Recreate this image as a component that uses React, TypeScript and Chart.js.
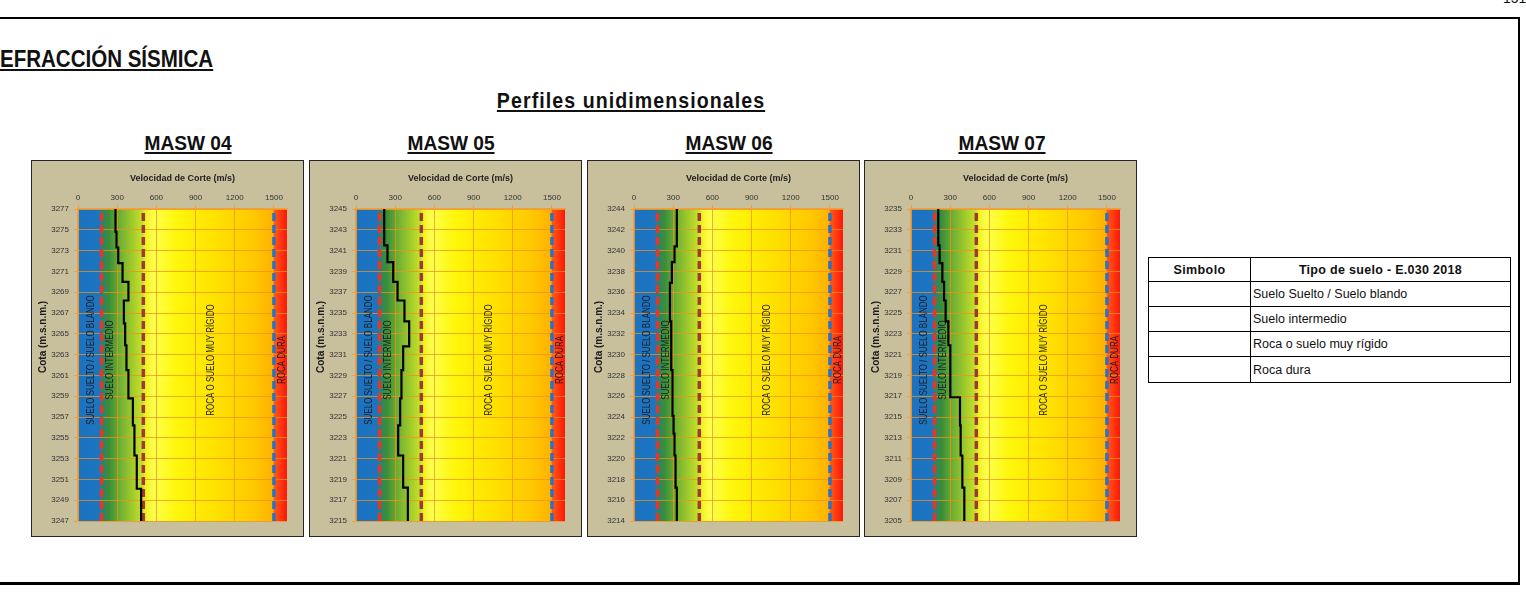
import React, { useEffect, useRef } from 'react';
import { Chart, registerables } from 'chart.js';

Chart.register(...registerables);

const FONT = "'Liberation Sans', Arial, Helvetica, sans-serif";
Chart.defaults.font.family = FONT;

// ---------- data ----------
const xTicks = [0, 300, 600, 900, 1200, 1500];
const xMin = 0;
const xMax = 1600;
const thresholds = [180, 500, 1500];
const zoneLabels = ['SUELO SUELTO / SUELO BLANDO', 'SUELO INTERMEDIO', 'ROCA O SUELO MUY RÍGIDO', 'ROCA DURA'];
const zoneLabelX = [100, 245, 1020, 1560];

const profileNames = ['MASW 04', 'MASW 05', 'MASW 06', 'MASW 07'];

const masw04Tops = [3277, 3274.8, 3273.3, 3271.8, 3270.0, 3268.2, 3266.0, 3263.9, 3261.5, 3258.8, 3256.2, 3253.3, 3250.1];
const masw04Vs = [287, 295, 308, 341, 386, 351, 361, 371, 386, 420, 432, 450, 483];
const masw04Base = 3247;
const masw04Ticks = [3277, 3275, 3273, 3271, 3269, 3267, 3265, 3263, 3261, 3259, 3257, 3255, 3253, 3251, 3249, 3247];

const masw05Tops = [3245, 3241.5, 3239.9, 3238.0, 3236.2, 3234.2, 3231.8, 3229.5, 3226.8, 3224.2, 3221.3, 3218.2];
const masw05Vs = [216, 241, 285, 318, 371, 407, 361, 348, 338, 323, 361, 397];
const masw05Base = 3215;
const masw05Ticks = [3245, 3243, 3241, 3239, 3237, 3235, 3233, 3231, 3229, 3227, 3225, 3223, 3221, 3219, 3217, 3215];

const masw06Tops = [3244, 3240.4, 3238.9, 3236.9, 3233.2, 3228.5, 3224.1, 3222.4, 3220.3, 3217.2];
const masw06Vs = [328, 310, 290, 275, 285, 295, 303, 310, 318, 328];
const masw06Base = 3214;
const masw06Ticks = [3244, 3242, 3240, 3238, 3236, 3234, 3232, 3230, 3228, 3226, 3224, 3222, 3220, 3218, 3216, 3214];

const masw07Tops = [3235, 3231.5, 3229.8, 3228.0, 3226.2, 3224.2, 3221.9, 3216.9, 3214.2, 3211.3, 3208.2];
const masw07Vs = [209, 219, 240, 253, 265, 286, 301, 375, 380, 393, 408];
const masw07Base = 3205;
const masw07Ticks = [3235, 3233, 3231, 3229, 3227, 3225, 3223, 3221, 3219, 3217, 3215, 3213, 3211, 3209, 3207, 3205];

const legendRows = ['Suelo Suelto / Suelo blando', 'Suelo intermedio', 'Roca o suelo muy rígido', 'Roca dura'];

// ---------- styles ----------
const thresholdColors = ['#E8352B', '#9E3A33', '#2C72C4'];
const zoneStopValues = [0, 160, 195, 235, 330, 450, 500, 515, 580, 750, 1050, 1350, 1490, 1502, 1600];
const zoneStopColors = ['#1B72C2', '#1D74BF', '#2D8660', '#3A8E38', '#74B232', '#B2D42A', '#CCE22A', '#F0F020', '#FFFF4E', '#FFF70C', '#FFE200', '#FFC800', '#FFB200', '#FF5A16', '#FF160A'];
const GRID = 'rgba(240,145,25,0.75)';

const panelLefts = [31, 309, 587, 864];
const headingCenters = [188, 451, 729, 1002];

type Profile = { tops: number[]; vs: number[]; base: number; ticks: number[] };
const profiles: Profile[] = [
  { tops: masw04Tops, vs: masw04Vs, base: masw04Base, ticks: masw04Ticks },
  { tops: masw05Tops, vs: masw05Vs, base: masw05Base, ticks: masw05Ticks },
  { tops: masw06Tops, vs: masw06Vs, base: masw06Base, ticks: masw06Ticks },
  { tops: masw07Tops, vs: masw07Vs, base: masw07Base, ticks: masw07Ticks },
];

function stepPoints(p: Profile) {
  const pts: { x: number; y: number }[] = [];
  for (let i = 0; i < p.vs.length; i++) {
    const top = p.tops[i];
    const bot = i + 1 < p.tops.length ? p.tops[i + 1] : p.base;
    pts.push({ x: p.vs[i], y: top }, { x: p.vs[i], y: bot });
  }
  return pts;
}

const zonePlugin = {
  id: 'zones',
  beforeDraw(chart: any) {
    const { ctx, chartArea: a, scales } = chart;
    const x = scales.x;
    const x0 = x.getPixelForValue(xMin);
    const x1 = x.getPixelForValue(xMax);
    const g = ctx.createLinearGradient(x0, 0, x1, 0);
    zoneStopValues.forEach((v, i) => g.addColorStop((v - xMin) / (xMax - xMin), zoneStopColors[i]));
    ctx.save();
    ctx.fillStyle = g;
    ctx.fillRect(a.left, a.top, a.right - a.left, a.bottom - a.top);
    ctx.restore();
  },
  beforeDatasetsDraw(chart: any) {
    const { ctx, chartArea: a, scales } = chart;
    const x = scales.x;
    const cy = (a.top + a.bottom) / 2 - 5;
    ctx.save();
    ctx.fillStyle = '#1c1c1c';
    ctx.font = `10px ${FONT}`;
    ctx.textAlign = 'center';
    ctx.textBaseline = 'middle';
    zoneLabels.forEach((t, i) => {
      const px = x.getPixelForValue(zoneLabelX[i]);
      ctx.save();
      ctx.translate(px, cy);
      ctx.rotate(-Math.PI / 2);
      ctx.scale(0.8, 1);
      ctx.fillText(t, 0, 0);
      ctx.restore();
    });
    ctx.restore();
  },
  afterDraw(chart: any) {
    const { ctx, chartArea: a } = chart;
    ctx.save();
    ctx.translate(11, a.top + (a.bottom - a.top) * 0.41);
    ctx.rotate(-Math.PI / 2);
    ctx.font = `bold 10px ${FONT}`;
    ctx.fillStyle = '#1a1a1a';
    ctx.textAlign = 'center';
    ctx.textBaseline = 'middle';
    ctx.fillText('Cota (m.s.n.m.)', 0, 0);
    ctx.restore();
  },
};

function ProfileChart({ profile, left }: { profile: Profile; left: number }) {
  const ref = useRef<HTMLCanvasElement | null>(null);
  useEffect(() => {
    if (!ref.current) return;
    const yMax = profile.ticks[0];
    const yMin = profile.ticks[profile.ticks.length - 1];
    const datasets: any[] = [
      {
        data: stepPoints(profile),
        showLine: true,
        borderColor: '#000',
        borderWidth: 2.2,
        pointRadius: 0,
        order: 0,
      },
      ...thresholds.map((t, i) => ({
        data: [
          { x: t, y: yMin },
          { x: t, y: yMax },
        ],
        showLine: true,
        borderColor: thresholdColors[i],
        borderWidth: 3.5,
        borderDash: [8, 4],
        pointRadius: 0,
        order: 1,
      })),
    ];
    const chart = new Chart(ref.current, {
      type: 'scatter',
      data: { datasets },
      options: {
        animation: false,
        responsive: false,
        events: [],
        layout: { padding: { left: 0, right: 16, top: 0, bottom: 15 } },
        plugins: { legend: { display: false }, tooltip: { enabled: false } },
        scales: {
          x: {
            type: 'linear',
            position: 'top',
            min: xMin,
            max: xMax,
            afterBuildTicks: (s: any) => {
              s.ticks = xTicks.map((v) => ({ value: v }));
            },
            afterFit: (s: any) => {
              s.height = 48;
            },
            ticks: {
              color: '#333',
              font: { size: 8 },
              padding: 2,
              maxRotation: 0,
              autoSkip: false,
              callback: (v: any) => String(v),
            },
            grid: { color: GRID, lineWidth: 1, tickLength: 4, tickColor: '#F0A040' },
            border: { color: '#F0A040', width: 1.5 },
            title: {
              display: true,
              text: 'Velocidad de Corte (m/s)',
              color: '#222',
              font: { size: 9, weight: 'bold' },
              padding: { top: 12, bottom: 0 },
            },
          },
          y: {
            type: 'linear',
            min: yMin,
            max: yMax,
            afterBuildTicks: (s: any) => {
              s.ticks = profile.ticks.map((v) => ({ value: v }));
            },
            afterFit: (s: any) => {
              s.width = 46;
            },
            ticks: {
              color: '#333',
              font: { size: 8 },
              padding: 5,
              autoSkip: false,
              callback: (v: any) => String(v),
            },
            grid: { color: GRID, lineWidth: 1, tickLength: 4, tickColor: '#F0A040' },
            border: { color: '#F0A040', width: 1.5 },
          },
        },
      } as any,
      plugins: [zonePlugin],
    });
    return () => chart.destroy();
  }, [profile]);
  return (
    <div
      style={{
        position: 'absolute',
        left,
        top: 160,
        width: 271,
        height: 375,
        border: '1px solid #262626',
        background: '#C8BF9D',
      }}
    >
      <canvas ref={ref} width={271} height={375} style={{ display: 'block', width: 271, height: 375 }} />
    </div>
  );
}

function Heading({ text, cx, left, top, size, spacing = 0, scale = 1 }: any) {
  const style: React.CSSProperties = {
    position: 'absolute',
    top,
    whiteSpace: 'nowrap',
    fontWeight: 'bold',
    fontSize: size,
    lineHeight: 1,
    letterSpacing: spacing,
    textDecoration: 'underline',
    textDecorationThickness: '2px',
    textUnderlineOffset: '2px',
    color: '#111',
    fontFamily: FONT,
  };
  if (cx !== undefined) {
    style.left = cx;
    style.transform = `translateX(-50%) scaleX(${scale})`;
    style.transformOrigin = 'center';
  } else {
    style.left = left;
    style.transform = `scaleX(${scale})`;
    style.transformOrigin = 'left';
  }
  return <div style={style}>{text}</div>;
}

export default function App() {
  const cell: React.CSSProperties = { border: '1px solid #000', padding: '0 2px', fontSize: 12.5, color: '#111' };
  const rowHeights = [25, 25, 25, 26];
  return (
    <div
      style={{
        position: 'absolute',
        left: 0,
        top: 0,
        width: 1526,
        height: 593,
        overflow: 'hidden',
        background: '#fff',
        fontFamily: FONT,
      }}
    >
      <div style={{ position: 'absolute', left: 0, top: 17, width: 1520, height: 2, background: '#000' }} />
      <div style={{ position: 'absolute', left: 1518, top: 17, width: 2, height: 568, background: '#000' }} />
      <div style={{ position: 'absolute', left: 0, top: 582, width: 1520, height: 3, background: '#000' }} />
      <div style={{ position: 'absolute', left: 1503, top: -10, fontSize: 14, color: '#111' }}>151</div>

      <Heading text="EFRACCIÓN SÍSMICA" left={0} top={47} size={24} scale={0.855} />
      <Heading text="Perfiles unidimensionales" cx={631} top={90} size={22} spacing={1.2} scale={0.89} />
      {profileNames.map((n, i) => (
        <Heading key={n} text={n} cx={headingCenters[i]} top={132} size={21} scale={0.91} />
      ))}

      {profiles.map((p, i) => (
        <ProfileChart key={i} profile={p} left={panelLefts[i]} />
      ))}

      <table
        style={{
          position: 'absolute',
          left: 1148,
          top: 257,
          width: 362,
          borderCollapse: 'collapse',
          tableLayout: 'fixed',
          fontFamily: FONT,
        }}
      >
        <colgroup>
          <col style={{ width: 102 }} />
          <col style={{ width: 260 }} />
        </colgroup>
        <tbody>
          <tr>
            <td style={{ ...cell, height: 23, fontWeight: 'bold', textAlign: 'center', letterSpacing: 0.4 }}>Simbolo</td>
            <td style={{ ...cell, height: 23, fontWeight: 'bold', textAlign: 'center', letterSpacing: 0.3 }}>
              Tipo de suelo - E.030 2018
            </td>
          </tr>
          {legendRows.map((r, i) => (
            <tr key={r}>
              <td style={{ ...cell, height: rowHeights[i] - 1 }} />
              <td style={{ ...cell, height: rowHeights[i] - 1 }}>{r}</td>
            </tr>
          ))}
        </tbody>
      </table>
    </div>
  );
}
